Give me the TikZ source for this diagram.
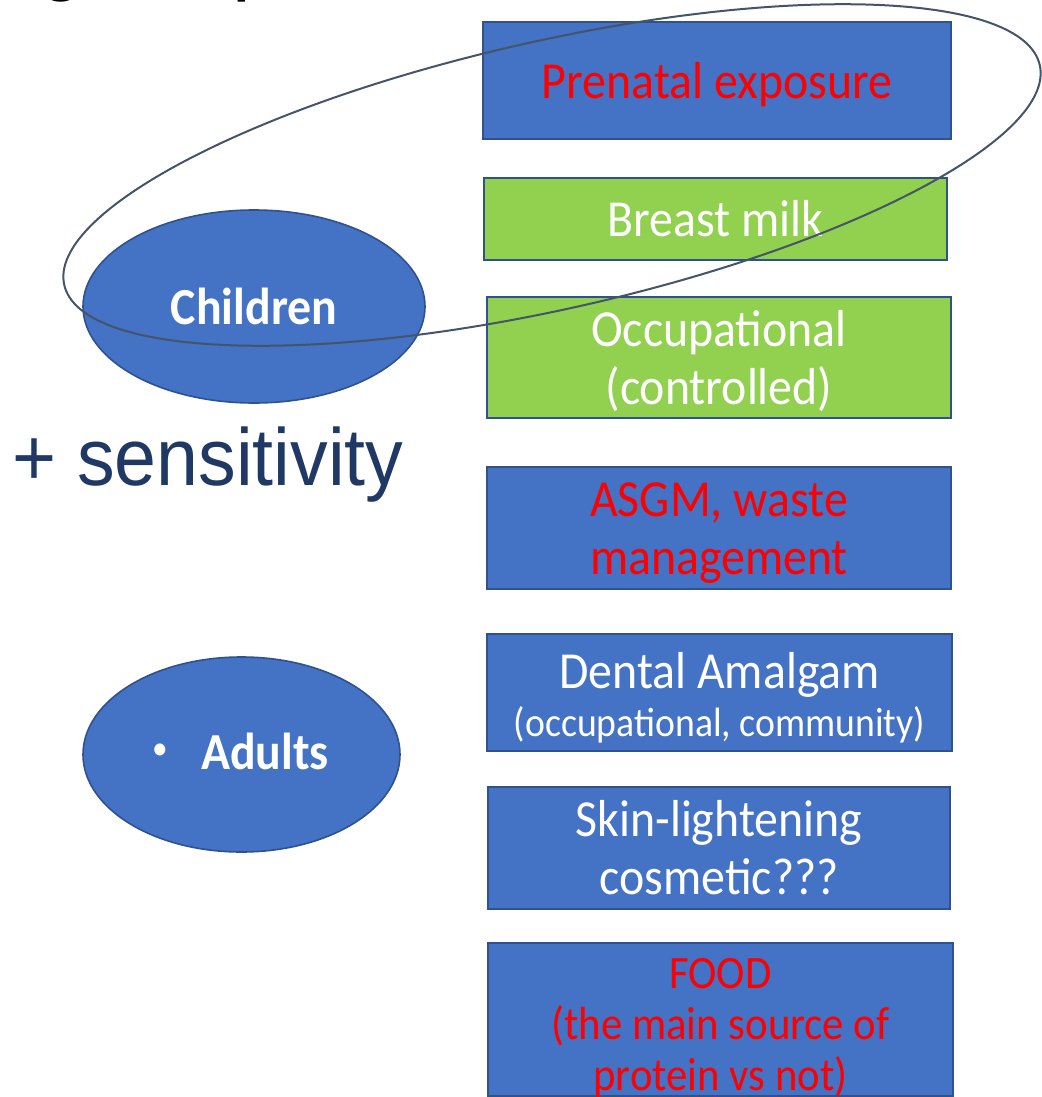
\documentclass[tikz,border=0pt]{standalone}
\usepackage{fontspec}
\usetikzlibrary{shapes.geometric}
\newfontfamily\slidefont{Carlito}[FakeStretch=0.92]
\newfontfamily\headfont{Liberation Sans}[FakeStretch=0.93]
\definecolor{boxblue}{HTML}{4472C4}
\definecolor{edgeblue}{HTML}{2F528F}
\definecolor{leafgreen}{HTML}{92D050}
\definecolor{loopgrey}{HTML}{44546A}
\definecolor{navytext}{HTML}{1F3864}
% line-box struts: full ascent above the first line, descent below the last
\newcommand\topstrut{\rule{0pt}{0.95em}}
\newcommand\botstrut{\rule[-0.27em]{0pt}{0pt}}
\begin{document}
\begin{tikzpicture}[x=1pt,y=-1pt,
  srcbox/.style={draw=edgeblue, line width=1.6pt, fill=boxblue, inner sep=0pt,
    align=center, text=white, font=\slidefont\fontsize{52}{58}\selectfont},
  greenbox/.style={srcbox, fill=leafgreen},
  risk/.style={text=red},
  group/.style={ellipse, draw=edgeblue, line width=1.6pt, fill=boxblue, inner sep=0pt,
    text=white, font=\slidefont\bfseries\fontsize{52}{58}\selectfont}]
\useasboundingbox (0,0) rectangle (1041,1097);

% descenders of the heading above
\begin{scope}
  \clip (0,0) rectangle (1041,1097);
  \node[anchor=base west, inner sep=0pt, font=\headfont\fontsize{90}{100}\selectfont] (hg) at (38,-16) {g};
  \node[anchor=base west, inner sep=0pt, font=\headfont\fontsize{90}{100}\selectfont] (hp) at (232,-16) {p};
\end{scope}

% population groups
\node[group, minimum width=342pt, minimum height=193pt] (kids) at (254,306.5) {\topstrut Children\botstrut};
\node[group, minimum width=317pt, minimum height=195pt] (adults) at (241.5,754.5) {};
\node[inner sep=0pt, text=white, font=\slidefont\fontsize{34}{40}\selectfont] (dot) at (160,752) {\textbullet};
\node[anchor=base west, inner sep=0pt, text=white, font=\slidefont\bfseries\fontsize{52}{58}\selectfont] (adlabel) at (201,769) {Adults};

\node[anchor=base west, inner sep=0pt, text=navytext, font=\headfont\fontsize{81}{90}\selectfont] (sens) at (12,485) {+ sensitivity};

% exposure sources
\node[srcbox, risk, minimum width=468pt, minimum height=117pt] (prenatal) at (717,80.5) {\topstrut Prenatal exposure\botstrut};
\node[greenbox, minimum width=463pt, minimum height=82pt] (milk) at (715.5,219) {\topstrut Breast milk\botstrut};
\node[greenbox, minimum width=464pt, minimum height=117pt] (occup) at (719,357.5) {\topstrut Occupational\\(controlled)\botstrut};
\node[srcbox, risk, minimum width=464pt, minimum height=116pt] (asgm) at (719,528) {\topstrut ASGM, waste\\management\botstrut};
\node[srcbox, minimum width=465pt, minimum height=117pt] (dental) at (719.5,692.5) {};
\node[inner sep=0pt, text=white, font=\slidefont\fontsize{52}{58}\selectfont, anchor=base] (dentalA) at (719.5,688) {Dental Amalgam};
\node[inner sep=0pt, text=white, font=\slidefont\fontsize{41}{48}\selectfont, anchor=base] (dentalB) at (719.5,736) {(occupational, community)};
\node[srcbox, minimum width=462pt, minimum height=118pt] (skin) at (719,848) {\topstrut Skin-lightening\\cosmetic???\botstrut};
\node[srcbox, risk, minimum width=465pt, minimum height=153pt] (food) at (720.5,1019.5) {};
\node[inner sep=0pt, text=red, align=center, anchor=base, font=\slidefont\fontsize{46.5}{51}\selectfont] (foodtext) at (720.5,1090) {FOOD\\(the main source of\\protein vs not)};

% loop grouping the early-life routes
\draw[loopgrey, line width=2pt, rotate around={12.7:(552,175)}] (552,175) ellipse [x radius=500pt, y radius=134pt];
\end{tikzpicture}
\end{document}
